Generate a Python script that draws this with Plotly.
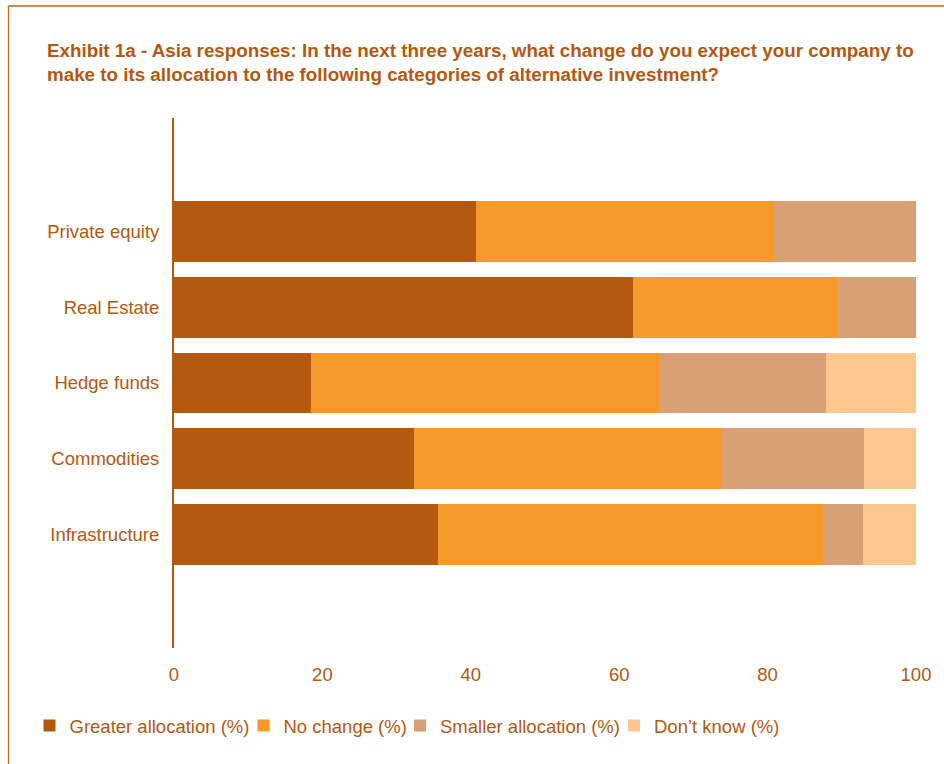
import plotly.graph_objects as go

categories = ["Private equity", "Real Estate", "Hedge funds", "Commodities", "Infrastructure"]
greater = [40.7, 61.8, 18.4, 32.4, 35.6]
no_change = [40.1, 27.6, 46.9, 41.5, 51.9]
smaller = [19.2, 10.6, 22.6, 19.1, 5.4]
dont_know = [0.0, 0.0, 12.1, 7.0, 7.1]
series_names = ["Greater allocation (%)", "No change (%)", "Smaller allocation (%)", "Don\u2019t know (%)"]
x_ticks = [0, 20, 40, 60, 80, 100]

colors = ["#B35A10", "#F7982A", "#D9A075", "#FDC78F"]
text_color = "#B4580F"
font_family = "Liberation Sans, Arial, sans-serif"

W, H = 944, 764
ml, mr, mt, mb = 174, 28, 118, 116

pw = W - ml - mr
ph = H - mt - mb
def px_x(p):
    return (p - ml) / pw
def px_y(p):
    return (H - mb - p) / ph

legend_ids = ["legend2", "legend3", "legend4", "legend5"]
legend_text_x = [66.5, 280.5, 437, 651]

fig = go.Figure()
for name, vals, col, lid in zip(series_names, [greater, no_change, smaller, dont_know], colors, legend_ids):
    fig.add_trace(go.Bar(
        y=categories, x=vals, name=name, orientation="h", legend=lid,
        marker=dict(color=col, line=dict(width=0)),
    ))

legend_layouts = {}
for lid, tx in zip(legend_ids, legend_text_x):
    legend_layouts[lid] = dict(
        orientation="h", x=px_x(tx - 37), xanchor="left", y=px_y(707), yanchor="top",
        font=dict(size=18.5, color=text_color), itemwidth=30,
        bgcolor="rgba(0,0,0,0)", visible=True,
    )

fig.update_layout(
    width=W, height=H,
    margin=dict(l=ml, r=mr, t=mt, b=mb),
    barmode="stack",
    bargap=0.2,
    showlegend=True,
    plot_bgcolor="white", paper_bgcolor="white",
    font=dict(family=font_family, size=18.5, color=text_color),
    title=dict(
        text="<b>Exhibit 1a - Asia responses: In the next three years, what change do you expect your company to<br>make to its allocation to the following categories of alternative investment?</b>",
        x=47 / W, xanchor="left", xref="container",
        y=1 - 57 / H, yanchor="top", yref="container",
        font=dict(family=font_family, size=18.8, color=text_color),
    ),
    xaxis=dict(
        range=[0, 100], tickvals=x_ticks, showgrid=False, zeroline=False,
        showline=False, ticks="", ticklabelstandoff=13,
        tickfont=dict(size=18.5, color=text_color),
    ),
    yaxis=dict(
        categoryorder="array", categoryarray=categories[::-1],
        range=[-1.5, 5.5], showgrid=False, zeroline=False,
        showline=True, linecolor="#B35A10", linewidth=2,
        ticks="", ticklabelstandoff=9,
        tickfont=dict(size=18.5, color=text_color),
    ),
    shapes=[
        dict(type="line", xref="paper", yref="paper", x0=px_x(8.5), x1=px_x(W), y0=px_y(6), y1=px_y(6),
             line=dict(color="#C0691F", width=1.3)),
        dict(type="line", xref="paper", yref="paper", x0=px_x(8.5), x1=px_x(8.5), y0=px_y(6), y1=px_y(H),
             line=dict(color="#C0691F", width=1.3)),
    ],
    **legend_layouts,
)

fig.write_html("out.html", config={"displayModeBar": False},
               post_script="document.body.style.margin='0';")
